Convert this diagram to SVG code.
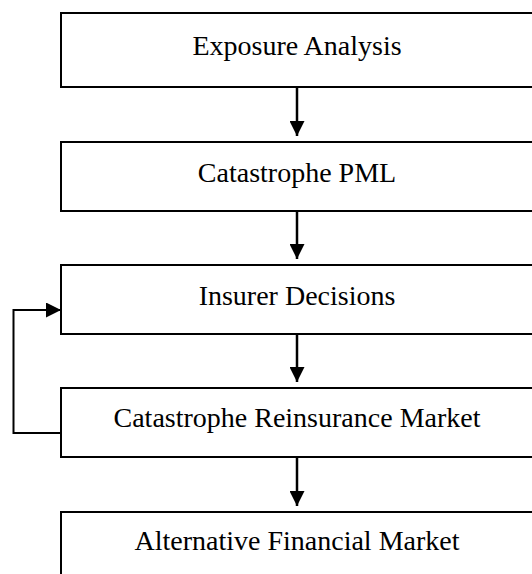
<svg xmlns="http://www.w3.org/2000/svg" width="532" height="574" viewBox="0 0 532 574">
<style>
.box{fill:#fff;stroke:#000;stroke-width:2}
.lbl{font-family:"Liberation Serif","Times New Roman",serif;font-size:28px;fill:#000;text-anchor:middle}
.con{fill:none;stroke:#000;stroke-width:2.5}
</style>
<defs>
<marker id="ah" markerWidth="15" markerHeight="15" refX="15" refY="7.5" orient="auto" markerUnits="userSpaceOnUse">
<path d="M0,0 L15,7.5 L0,15 Z" fill="#000"/>
</marker>
</defs>
<rect width="532" height="574" fill="#fff"/>
<g id="n1"><rect class="box" x="61" y="13" width="472" height="74"/><text class="lbl" x="297" y="55">Exposure Analysis</text></g>
<g id="n2"><rect class="box" x="61" y="142" width="472" height="69"/><text class="lbl" x="297" y="182">Catastrophe PML</text></g>
<g id="n3"><rect class="box" x="61" y="265" width="472" height="69"/><text class="lbl" x="297" y="305">Insurer Decisions</text></g>
<g id="n4"><rect class="box" x="61" y="388" width="472" height="69"/><text class="lbl" x="297" y="427">Catastrophe Reinsurance Market</text></g>
<g id="n5"><rect class="box" x="61" y="512" width="472" height="80"/><text class="lbl" x="297" y="550">Alternative Financial Market</text></g>
<g id="connectors">
<line class="con" x1="297" y1="87" x2="297" y2="136" marker-end="url(#ah)"/>
<line class="con" x1="297" y1="211" x2="297" y2="259" marker-end="url(#ah)"/>
<line class="con" x1="297" y1="334" x2="297" y2="382" marker-end="url(#ah)"/>
<line class="con" x1="297" y1="457" x2="297" y2="506" marker-end="url(#ah)"/>
<polyline class="con" points="61,433 13.5,433 13.5,310 61,310" marker-end="url(#ah)" style="stroke-width:2"/>
</g>
</svg>
